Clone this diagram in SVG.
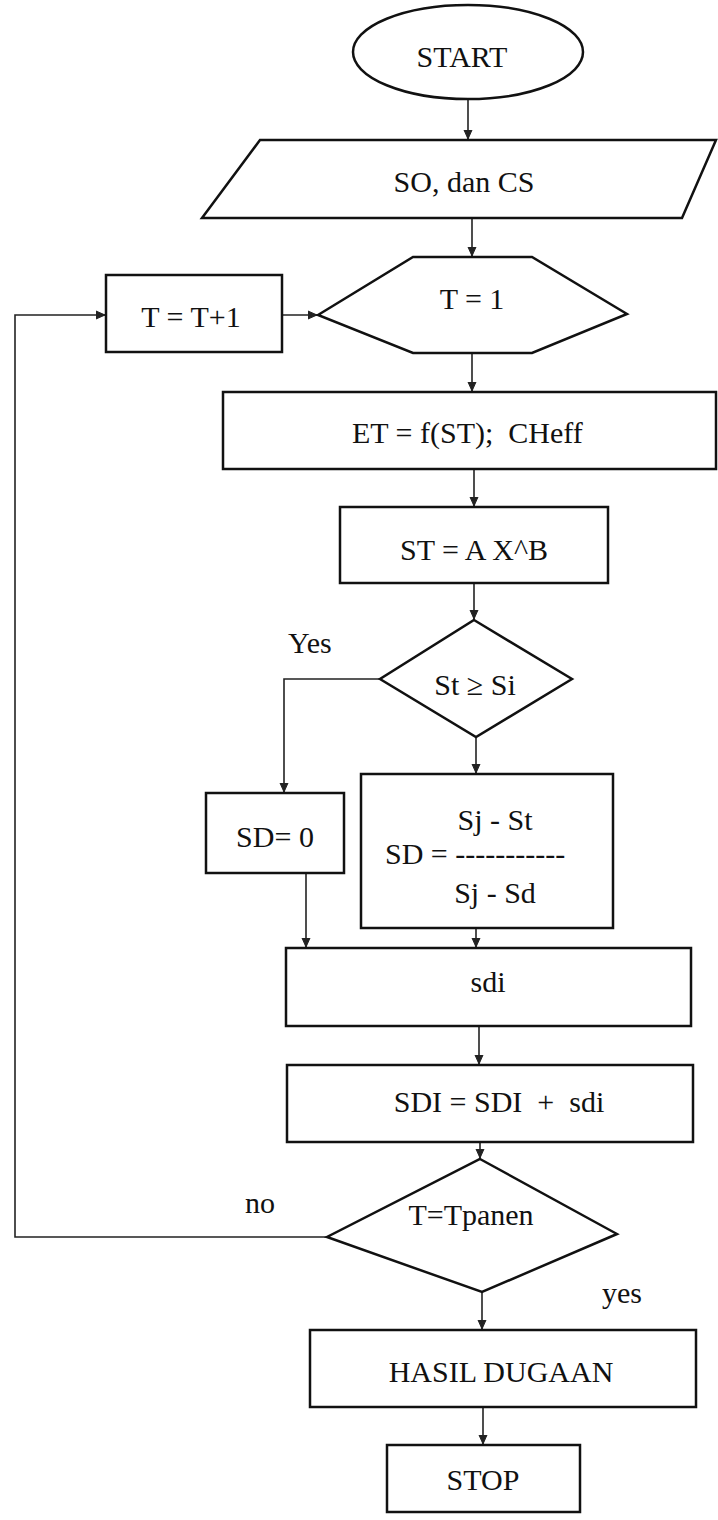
<svg xmlns="http://www.w3.org/2000/svg" width="718" height="1520" viewBox="0 0 718 1520">
<style>
  .shape { fill: #ffffff; stroke: #111111; stroke-width: 2.5; stroke-linejoin: miter; }
  .conn { fill: none; stroke: #222222; stroke-width: 1.6; }
  .t { fill: #111111; font-size: 30px; text-anchor: middle; white-space: pre; }
  .lbl { text-anchor: start; }
</style>
<defs>
  <marker id="arr" markerUnits="userSpaceOnUse" markerWidth="10" markerHeight="10" refX="9" refY="5" orient="auto">
    <path d="M0,1 L9,5 L0,9 Z" fill="#222222" stroke="#222222" stroke-width="1"/>
  </marker>
</defs>
<rect width="718" height="1520" fill="#ffffff"/>

<g id="connectors">
  <path class="conn" d="M468,100 V139" marker-end="url(#arr)"/>
  <path class="conn" d="M472,218 V256" marker-end="url(#arr)"/>
  <path class="conn" d="M282,315 H317" marker-end="url(#arr)"/>
  <path class="conn" d="M472,353 V391" marker-end="url(#arr)"/>
  <path class="conn" d="M474,469 V506" marker-end="url(#arr)"/>
  <path class="conn" d="M474,583 V619" marker-end="url(#arr)"/>
  <path class="conn" d="M476,737 V773" marker-end="url(#arr)"/>
  <path class="conn" d="M380,679 H284 V792" marker-end="url(#arr)"/>
  <path class="conn" d="M306,873 V947" marker-end="url(#arr)"/>
  <path class="conn" d="M476,928 V947" marker-end="url(#arr)"/>
  <path class="conn" d="M479,1026 V1064" marker-end="url(#arr)"/>
  <path class="conn" d="M480,1142 V1158" marker-end="url(#arr)"/>
  <path class="conn" d="M327,1237 H15 V315 H105" marker-end="url(#arr)"/>
  <path class="conn" d="M482,1292 V1329" marker-end="url(#arr)"/>
  <path class="conn" d="M483,1407 V1444" marker-end="url(#arr)"/>
</g>

<g font-family="'Liberation Serif', 'DejaVu Serif', serif">
<g id="start">
  <ellipse class="shape" cx="468" cy="52" rx="115" ry="47"/>
  <text class="t" x="462" y="67">START</text>
</g>

<g id="input">
  <polygon class="shape" points="260,140 716,140 682,218 202,218"/>
  <text class="t" x="464" y="192">SO, dan CS</text>
</g>

<g id="t-init">
  <polygon class="shape" points="318,315 413,257 532,257 627,314 532,353 413,353"/>
  <text class="t" x="472" y="309">T = 1</text>
</g>

<g id="t-inc">
  <rect class="shape" x="106" y="275" width="176" height="77"/>
  <text class="t" x="191" y="327">T = T+1</text>
</g>

<g id="et">
  <rect class="shape" x="223" y="392" width="493" height="77"/>
  <text class="t lbl" x="352" y="443" font-size="29">ET = f(ST);  CHeff</text>
</g>

<g id="st">
  <rect class="shape" x="340" y="507" width="268" height="76"/>
  <text class="t" x="474" y="560">ST = A X^B</text>
</g>

<g id="decision-st">
  <polygon class="shape" points="474,620 572,679 476,737 380,679"/>
  <text class="t" x="475" y="695">St ≥ Si</text>
</g>

<g id="label-yes1">
  <text class="t lbl" x="288" y="653">Yes</text>
</g>

<g id="sd-zero">
  <rect class="shape" x="206" y="793" width="138" height="80"/>
  <text class="t" x="275" y="847">SD= 0</text>
</g>

<g id="sd-formula">
  <rect class="shape" x="361" y="774" width="252" height="154"/>
  <text class="t" x="495" y="830">Sj - St</text>
  <text class="t lbl" x="385" y="864">SD = -----------</text>
  <text class="t" x="495" y="903">Sj - Sd</text>
</g>

<g id="sdi">
  <rect class="shape" x="286" y="948" width="405" height="78"/>
  <text class="t" x="488" y="992">sdi</text>
</g>

<g id="sdi-sum">
  <rect class="shape" x="287" y="1065" width="406" height="77"/>
  <text class="t" x="499" y="1112">SDI = SDI  +  sdi</text>
</g>

<g id="decision-panen">
  <polygon class="shape" points="480,1159 617,1234 482,1292 327,1237"/>
  <text class="t" x="471" y="1225" font-size="26">T=Tpanen</text>
</g>

<g id="label-no">
  <text class="t lbl" x="245" y="1213">no</text>
</g>

<g id="label-yes2">
  <text class="t lbl" x="602" y="1303" font-size="29">yes</text>
</g>

<g id="hasil">
  <rect class="shape" x="310" y="1330" width="386" height="77"/>
  <text class="t" x="501" y="1382" font-size="31">HASIL DUGAAN</text>
</g>

<g id="stop">
  <rect class="shape" x="387" y="1445" width="193" height="67"/>
  <text class="t" x="483" y="1490">STOP</text>
</g>
</g>
</svg>
